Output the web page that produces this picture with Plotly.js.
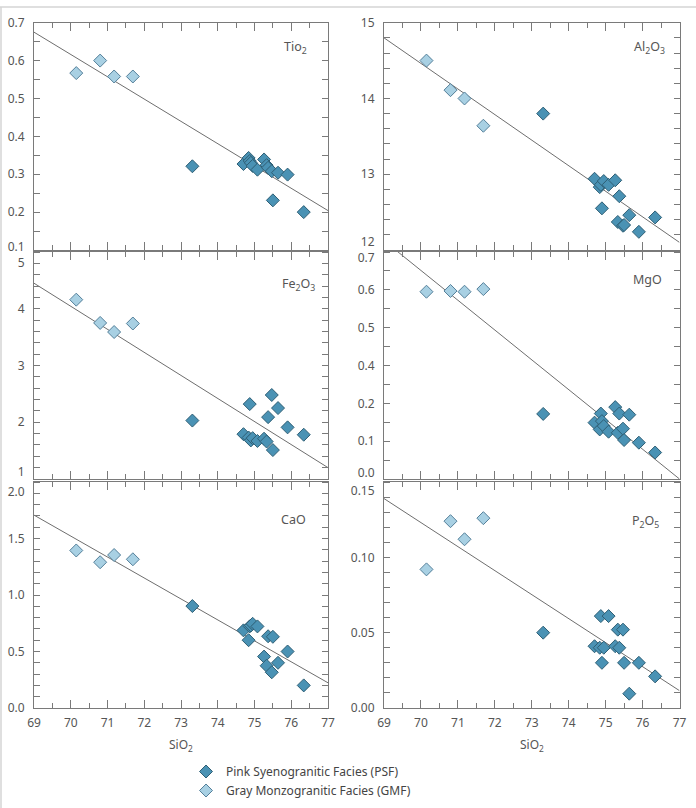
<!DOCTYPE html>
<html>
<head>
<meta charset="utf-8">
<script src="https://cdn.plot.ly/plotly-3.0.1.min.js"></script>
<style>
  html, body { margin: 0; padding: 0; background: #fff; }
  #chart { width: 696px; height: 808px; }
</style>
</head>
<body>
<div id="chart"></div>
<script>
// Harker diagrams: major oxides (wt%) against SiO2 (wt%)

// SiO2 of each sample
const sio2GMF = [70.15, 70.80, 71.18, 71.69];
const sio2PSF = [73.31, 74.70, 74.84, 74.87, 74.90, 74.95, 75.08, 75.26, 75.33, 75.37, 75.47, 75.50, 75.64, 75.90, 76.34];

// oxide contents, same sample order as the SiO2 arrays
const tio2GMF = [0.567, 0.600, 0.558, 0.558];
const tio2PSF = [0.321, 0.327, 0.343, 0.335, 0.330, 0.322, 0.312, 0.339, 0.324, 0.317, 0.308, 0.231, 0.304, 0.299, 0.200];

const al2o3GMF = [14.50, 14.11, 14.00, 13.64];
const al2o3PSF = [13.80, 12.94, 12.83, 12.86, 12.55, 12.91, 12.86, 12.92, 12.37, 12.71, 12.32, 12.33, 12.46, 12.24, 12.43];

const fe2o3GMF = [4.16, 3.75, 3.59, 3.74];
const fe2o3PSF = [2.03, 1.79, 1.73, 2.32, 1.68, 1.72, 1.67, 1.71, 1.66, 2.09, 2.48, 1.51, 2.25, 1.91, 1.78];

// MgO in scale units; the printed scale labels are listed in mgoTickText
const mgoGMF = [0.495, 0.497, 0.495, 0.502];
const mgoPSF = [0.172, 0.149, 0.131, 0.173, 0.153, 0.140, 0.125, 0.190, 0.122, 0.173, 0.133, 0.103, 0.170, 0.096, 0.070];

const caoGMF = [1.394, 1.290, 1.354, 1.316];
const caoPSF = [0.902, 0.687, 0.600, 0.722, 0.730, 0.745, 0.722, 0.455, 0.374, 0.635, 0.316, 0.630, 0.400, 0.500, 0.200];

const p2o5GMF = [0.092, 0.124, 0.112, 0.126];
const p2o5PSF = [0.050, 0.041, 0.040, 0.061, 0.030, 0.040, 0.061, 0.041, 0.052, 0.040, 0.052, 0.030, 0.0095, 0.030, 0.021];

// trend lines (end points at SiO2 = 69 and 77)
const fitSiO2 = [69, 77];
const tio2Fit = [0.675, 0.204];
const al2o3Fit = [14.80, 12.10];
const fe2o3Fit = [4.45, 1.20];
const mgoFit = [0.63, 0.0];
const caoFit = [1.707, 0.223];
const p2o5Fit = [0.139, 0.0115];

// axis ticks
const sio2Ticks = [69, 70, 71, 72, 73, 74, 75, 76, 77];
const tio2Ticks = [0.1, 0.2, 0.3, 0.4, 0.5, 0.6, 0.7];
const tio2TickText = ['0.1', '0.2', '0.3', '0.4', '0.5', '0.6', '0.7'];
const al2o3Ticks = [12, 13, 14, 15];
const al2o3TickText = ['12', '13', '14', '15'];
const fe2o3Ticks = [1, 2, 3, 4, 5];
const fe2o3TickText = ['1', '2', '3', '4', '5'];
const mgoTicks = [0.0, 0.1, 0.2, 0.3, 0.4, 0.5, 0.6];
const mgoTickText = ['0.0', '0.1', '0.2', '0.4', '0.5', '0.6', '0.7'];
const caoTicks = [0.0, 0.5, 1.0, 1.5, 2.0];
const caoTickText = ['0.0', '0.5', '1.0', '1.5', '2.0'];
const p2o5Ticks = [0.00, 0.05, 0.10, 0.15];
const p2o5TickText = ['0.00', '0.05', '0.10', '0.15'];

const seriesNames = ['Pink Syenogranitic Facies (PSF)', 'Gray Monzogranitic Facies (GMF)'];

// ---- styling ----
const W = 696, H = 808;
const FONT = 'Noto Sans, Open Sans, sans-serif';
const TEXT = '#555555';
const FRAME = '#7a7a7a';
const PSF_FILL = '#4a92b4', PSF_EDGE = '#2f5f75';
const GMF_FILL = '#a8d0e3', GMF_EDGE = '#55809a';

const colDomains = [[34 / W, 328 / W], [384 / W, 679.5 / W]];
const rowDomains = [
  [1 - 250 / H, 1 - 22.7 / H],
  [1 - 479 / H, 1 - 252 / H],
  [1 - 708 / H, 1 - 482 / H]
];

// edge: pixel offset of the lowest / highest tick label towards the panel centre
const panels = [
  { label: 'Tio<sub>2</sub>', gmf: tio2GMF, psf: tio2PSF, fit: tio2Fit, range: [0.1, 0.7],
    ticks: tio2Ticks, text: tio2TickText, minor: 0.05, edge: [3, 0], lab: [0.888, 0.889] },
  { label: 'Al<sub>2</sub>O<sub>3</sub>', gmf: al2o3GMF, psf: al2o3PSF, fit: al2o3Fit, range: [12, 15],
    ticks: al2o3Ticks, text: al2o3TickText, minor: 0.2, edge: [8, 0], lab: [0.898, 0.889] },
  { label: 'Fe<sub>2</sub>O<sub>3</sub>', gmf: fe2o3GMF, psf: fe2o3PSF, fit: fe2o3Fit, range: [1, 5],
    ticks: fe2o3Ticks, text: fe2o3TickText, minor: 0.2, edge: [7, 11], lab: [0.899, 0.855] },
  { label: 'MgO', gmf: mgoGMF, psf: mgoPSF, fit: mgoFit, range: [0, 0.6],
    ticks: mgoTicks, text: mgoTickText, minor: 0.05, edge: [6, 6], lab: [0.893, 0.877] },
  { label: 'CaO', gmf: caoGMF, psf: caoPSF, fit: caoFit, range: [0, 2],
    ticks: caoTicks, text: caoTickText, minor: 0.1, edge: [0, 10], lab: [0.884, 0.832] },
  { label: 'P<sub>2</sub>O<sub>5</sub>', gmf: p2o5GMF, psf: p2o5PSF, fit: p2o5Fit, range: [0, 0.15],
    ticks: p2o5Ticks, text: p2o5TickText, minor: 0.01, edge: [0, 9], lab: [0.885, 0.824] }
];

const traces = [];
const layout = {
  width: W, height: H,
  margin: { l: 0, r: 0, t: 0, b: 0, pad: 0 },
  paper_bgcolor: '#ffffff', plot_bgcolor: '#ffffff',
  font: { family: FONT, size: 12, color: TEXT },
  showlegend: true,
  legend: {
    x: 186 / W, y: 1 - 757 / H, xanchor: 'left', yanchor: 'top',
    font: { family: FONT, size: 12, color: '#444' },
    bgcolor: 'rgba(0,0,0,0)', tracegroupgap: 0
  },
  annotations: [],
  shapes: [
    { type: 'line', xref: 'paper', yref: 'paper', x0: 0, x1: 1, y0: 1 - 7 / H, y1: 1 - 7 / H,
      line: { color: '#d4d4d4', width: 1.5 } },
    { type: 'line', xref: 'paper', yref: 'paper', x0: 1 / W, x1: 1 / W, y0: 0, y1: 1 - 7 / H,
      line: { color: '#d4d4d4', width: 1.5 } }
  ]
};

panels.forEach((p, i) => {
  const n = i + 1;
  const sfx = n === 1 ? '' : String(n);
  const xa = 'x' + sfx, ya = 'y' + sfx;
  const col = i % 2, row = Math.floor(i / 2);
  const xDom = colDomains[col], yDom = rowDomains[row];

  traces.push({
    x: fitSiO2, y: p.fit, xaxis: xa, yaxis: ya, type: 'scatter', mode: 'lines',
    line: { color: '#6e6e6e', width: 1 }, showlegend: false, hoverinfo: 'skip'
  });
  traces.push({
    x: sio2PSF, y: p.psf, xaxis: xa, yaxis: ya, type: 'scatter', mode: 'markers',
    name: seriesNames[0], legendgroup: 'psf', showlegend: i === 0, cliponaxis: false,
    marker: { symbol: 'diamond', size: 10, color: PSF_FILL, line: { color: PSF_EDGE, width: 1 } }
  });
  traces.push({
    x: sio2GMF, y: p.gmf, xaxis: xa, yaxis: ya, type: 'scatter', mode: 'markers',
    name: seriesNames[1], legendgroup: 'gmf', showlegend: i === 0, cliponaxis: false,
    marker: { symbol: 'diamond', size: 10, color: GMF_FILL, line: { color: GMF_EDGE, width: 1 } }
  });

  const bottom = row === 2;
  layout['xaxis' + sfx] = {
    domain: xDom, anchor: ya, range: [69, 77], fixedrange: true,
    tickmode: 'array', tickvals: sio2Ticks, ticktext: sio2Ticks.map(String),
    showticklabels: bottom, ticks: 'inside', ticklen: 8, tickwidth: 1, tickcolor: FRAME,
    ticklabelstandoff: 4,
    minor: { ticks: 'inside', ticklen: 5, dtick: 0.5, tick0: 69, tickcolor: FRAME, tickwidth: 1 },
    showline: true, linecolor: FRAME, linewidth: 1, mirror: 'ticks',
    showgrid: false, zeroline: false, automargin: false,
    tickfont: { family: FONT, size: 12, color: TEXT }
  };

  // tick labels at the ends of each scale sit a few pixels inside the frame
  const span = p.range[1] - p.range[0];
  const hPx = (yDom[1] - yDom[0]) * H;
  const last = p.ticks.length - 1;
  const labelPos = p.ticks.map((v, k) => {
    if (k === 0) return v + p.edge[0] * span / hPx;
    if (k === last) return v - p.edge[1] * span / hPx;
    return v;
  });

  layout['yaxis' + sfx] = {
    domain: yDom, anchor: xa, range: p.range, fixedrange: true,
    tickmode: 'array', tickvals: labelPos, ticktext: p.text,
    ticks: 'outside', ticklen: 0, ticklabelstandoff: 6,
    minor: { ticks: 'inside', ticklen: 6, dtick: p.minor, tick0: 0, tickcolor: FRAME, tickwidth: 1 },
    showline: true, linecolor: FRAME, linewidth: 1, mirror: 'ticks',
    showgrid: false, zeroline: false, automargin: false,
    tickfont: { family: FONT, size: 12, color: TEXT }
  };

  layout.annotations.push({
    xref: xa + ' domain', yref: ya + ' domain', x: p.lab[0], y: p.lab[1],
    text: p.label, showarrow: false, xanchor: 'center', yanchor: 'middle',
    font: { family: FONT, size: 12.5, color: TEXT }
  });

  if (bottom) {
    layout.annotations.push({
      xref: xa + ' domain', yref: 'paper', x: 0.5, y: 1 - 745 / H,
      text: 'SiO<sub>2</sub>', showarrow: false, xanchor: 'center', yanchor: 'middle',
      font: { family: FONT, size: 12, color: TEXT }
    });
  }
});

Plotly.newPlot('chart', traces, layout, { displayModeBar: false, staticPlot: true });
</script>
</body>
</html>
